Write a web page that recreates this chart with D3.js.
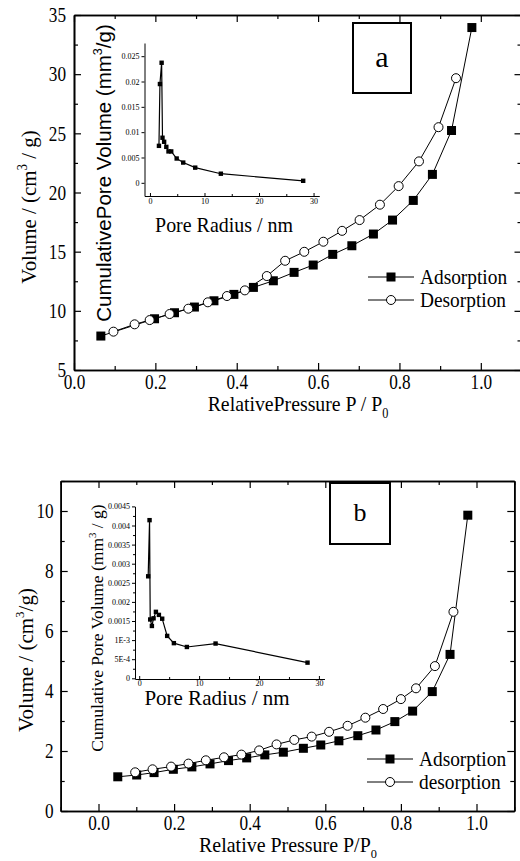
<!DOCTYPE html>
<html>
<head>
<meta charset="utf-8">
<title>Isotherms</title>
<script src="https://d3js.org/d3.v7.min.js"></script>
<style>
  body { margin: 0; background: #fff; }
</style>
</head>
<body>
<svg width="520" height="861" id="mainSvg" font-family="Liberation Serif"></svg>
<script>
// ---- panel a: isotherm ----
const aAdsP = [0.066, 0.198, 0.247, 0.296, 0.344, 0.393, 0.441, 0.490, 0.541, 0.588, 0.636, 0.683, 0.736, 0.783, 0.834, 0.881, 0.928, 0.978];
const aAdsV = [7.87, 9.33, 9.84, 10.32, 10.85, 11.39, 11.98, 12.54, 13.25, 13.87, 14.77, 15.50, 16.49, 17.67, 19.33, 21.53, 25.24, 33.94];
const aDesP = [0.097, 0.149, 0.186, 0.235, 0.281, 0.329, 0.376, 0.420, 0.474, 0.519, 0.566, 0.613, 0.659, 0.702, 0.752, 0.798, 0.848, 0.896, 0.939];
const aDesV = [8.24, 8.86, 9.22, 9.73, 10.18, 10.72, 11.25, 11.73, 12.94, 14.23, 14.99, 15.84, 16.76, 17.67, 18.97, 20.54, 22.63, 25.52, 29.66];
// panel a inset: pore distribution
const aPoreR = [1.65, 1.83, 2.14, 2.3, 2.6, 3.0, 3.4, 3.9, 4.9, 6.1, 8.3, 13.0, 28.1];
const aPoreV = [0.0073, 0.0195, 0.0237, 0.0089, 0.0081, 0.0071, 0.0062, 0.0062, 0.0048, 0.0040, 0.0030, 0.0018, 0.0004];

// ---- panel b: isotherm ----
const bAdsP = [0.051, 0.101, 0.147, 0.198, 0.247, 0.295, 0.344, 0.392, 0.440, 0.489, 0.542, 0.588, 0.636, 0.686, 0.734, 0.784, 0.831, 0.883, 0.930, 0.977];
const bAdsV = [1.14, 1.20, 1.28, 1.39, 1.47, 1.57, 1.68, 1.77, 1.87, 1.96, 2.09, 2.20, 2.34, 2.51, 2.70, 2.98, 3.33, 3.98, 5.22, 9.86];
const bDesP = [0.097, 0.143, 0.192, 0.238, 0.284, 0.332, 0.378, 0.425, 0.471, 0.518, 0.564, 0.610, 0.659, 0.706, 0.753, 0.800, 0.840, 0.890, 0.939];
const bDesV = [1.29, 1.39, 1.48, 1.58, 1.69, 1.79, 1.88, 2.02, 2.22, 2.37, 2.48, 2.64, 2.84, 3.11, 3.40, 3.73, 4.09, 4.83, 6.64];
// panel b inset
const bPoreR = [1.50, 1.73, 1.84, 2.12, 2.40, 2.79, 3.29, 3.84, 4.67, 5.79, 7.96, 12.75, 28.1];
const bPoreV = [0.00267, 0.00414, 0.00154, 0.00137, 0.00157, 0.00174, 0.00166, 0.00156, 0.00111, 0.00092, 0.00082, 0.00091, 0.00041];

// tick values / labels
const aYTicks = [5, 10, 15, 20, 25, 30, 35];
const bYTicks = [0, 2, 4, 6, 8, 10];
const pTicks = [0, 0.2, 0.4, 0.6, 0.8, 1.0];
const rTicks = [0, 10, 20, 30];
const aInsetYTicks = [0, 0.005, 0.01, 0.015, 0.02, 0.025];
const aInsetYLabels = ["0", "0.005", "0.01", "0.015", "0.02", "0.025"];
const bInsetYTicks = [0, 0.0005, 0.001, 0.0015, 0.002, 0.0025, 0.003, 0.0035, 0.004, 0.0045];
const bInsetYLabels = ["0", "5E-4", "1E-3", "0.0015", "0.002", "0.0025", "0.003", "0.0035", "0.004", "0.0045"];

const SERIF = "Liberation Serif";
const SANS = "Liberation Sans";
const SQX = 0.82; // the source figure is squeezed horizontally

const svg = d3.select('#mainSvg');
const zip = (a, b) => a.map((v, i) => [v, b[i]]);

// boxed axis frame with inward ticks on all four sides
function frame(x, y, o) {
    const g = svg.append('g');
    const [xl, xr] = x.range();
    const [yb, yt] = y.range();
    const sides = [
        [d3.axisBottom, x, yb, o.xTicks, o.xMinor, true],
        [d3.axisTop, x, yt, o.xTicks, o.xMinor, false],
        [d3.axisLeft, y, xl, o.yTicks, o.yMinor, true],
        [d3.axisRight, y, xr, o.yTicks, o.yMinor, false]
    ];
    sides.forEach(([ax, sc, pos, ticks, minor, lab], i) => {
        const tr = i < 2 ? `translate(0,${pos})` : `translate(${pos},0)`;
        g.append('g').attr('transform', tr)
            .call(ax(sc).tickValues(minor).tickSize(-4).tickSizeOuter(0).tickFormat(''));
        const a = g.append('g').attr('transform', tr)
            .call(ax(sc).tickValues(ticks).tickSize(-7).tickSizeOuter(0)
                .tickPadding(i < 2 ? o.xPad : o.yPad)
                .tickFormat(lab ? (i < 2 ? d3.format('.1f') : d3.format('d')) : ''));
        if (i === 2) a.selectAll('text').attr('x', -o.yPad / SQX);
    });
    g.selectAll('g').attr('font-family', SERIF);
    g.selectAll('text').attr('font-size', o.fs).attr('transform', `scale(${SQX},1)`);
    g.selectAll('path.domain').attr('stroke-width', 1.6);
    g.selectAll('line').attr('stroke-width', 1.2);
    return g;
}

function series(x, y, P, V, kind, size) {
    const g = svg.append('g');
    g.append('path').datum(zip(P, V))
        .attr('fill', 'none').attr('stroke', '#000').attr('stroke-width', 1)
        .attr('d', d3.line().x(d => x(d[0])).y(d => y(d[1])));
    if (kind === 'sq') {
        g.selectAll('rect').data(zip(P, V)).join('rect')
            .attr('x', d => x(d[0]) - size / 2).attr('y', d => y(d[1]) - size / 2)
            .attr('width', size).attr('height', size).attr('fill', '#000');
    } else {
        g.selectAll('circle').data(zip(P, V)).join('circle')
            .attr('cx', d => x(d[0])).attr('cy', d => y(d[1])).attr('r', size / 2)
            .attr('fill', '#fff').attr('stroke', '#000').attr('stroke-width', 1);
    }
}

function inset(x, y, R, V, o) {
    const g = svg.append('g');
    const [xl] = x.range();
    g.append('g').attr('transform', `translate(${xl},0)`)
        .call(d3.axisLeft(y).tickValues(o.yTicks).tickSize(3).tickSizeOuter(0).tickPadding(2)
            .tickFormat((d, i) => o.yLabels[i]));
    if (o.yMinor) {
        g.append('g').attr('transform', `translate(${xl},0)`)
            .call(d3.axisLeft(y).tickValues(o.yMinor).tickSize(2).tickSizeOuter(0).tickFormat(''));
    }
    g.append('g').attr('transform', `translate(0,${o.xAxisY})`)
        .call(d3.axisBottom(x).tickValues(rTicks).tickSize(-3).tickSizeOuter(0).tickPadding(o.xPad)
            .tickFormat(d3.format('d')));
    g.append('g').attr('transform', `translate(0,${o.xAxisY})`)
        .call(d3.axisBottom(x).tickValues([5, 15, 25]).tickSize(-2).tickSizeOuter(0).tickFormat(''));
    g.selectAll('g').attr('font-family', SERIF);
    g.selectAll('text').attr('font-size', 8);
    g.append('path').datum(zip(R, V))
        .attr('fill', 'none').attr('stroke', '#000').attr('stroke-width', 1.2)
        .attr('d', d3.line().x(d => x(d[0])).y(d => y(d[1])));
    g.selectAll('rect.pt').data(zip(R, V)).join('rect').attr('class', 'pt')
        .attr('x', d => x(d[0]) - 2.2).attr('y', d => y(d[1]) - 2.2)
        .attr('width', 4.4).attr('height', 4.4).attr('fill', '#000');
}

// text with optional rotation, horizontal squeeze sx and sup/sub parts
function label(x, y, rot, size, sx, parts, family) {
    const t = svg.append('text')
        .attr('transform', `translate(${x},${y})` + (rot ? ' rotate(-90)' : '') + ` scale(${sx},1)`)
        .attr('text-anchor', 'middle').attr('font-size', size)
        .attr('font-family', family || SERIF);
    parts.forEach(p => {
        const s = t.append('tspan').text(p[0]);
        if (p[1] === 'sup') s.attr('font-size', size * 0.62).attr('dy', -size * 0.42);
        if (p[1] === 'sub') s.attr('font-size', size * 0.62).attr('dy', size * 0.3);
        if (p[1] === 'back') s.attr('dy', size * 0.42);
    });
    return t;
}

function legend(x0, y0, gap, names, size) {
    const g = svg.append('g');
    names.forEach((n, i) => {
        const yy = y0 + i * gap;
        g.append('line').attr('x1', x0).attr('x2', x0 + 46).attr('y1', yy).attr('y2', yy)
            .attr('stroke', '#000').attr('stroke-width', 1);
        if (i === 0) {
            g.append('rect').attr('x', x0 + 23 - 4.5).attr('y', yy - 4.5).attr('width', 9).attr('height', 9);
        } else {
            g.append('circle').attr('cx', x0 + 23).attr('cy', yy).attr('r', 4.5)
                .attr('fill', '#fff').attr('stroke', '#000');
        }
        g.append('text').attr('transform', `translate(${x0 + 52},${yy + 7}) scale(${SQX + 0.06},1)`)
            .attr('font-family', SERIF).attr('font-size', size).text(n);
    });
}

function tag(x, y, w, h, txt, size) {
    svg.append('rect').attr('x', x).attr('y', y).attr('width', w).attr('height', h)
        .attr('fill', '#fff').attr('stroke', '#000').attr('stroke-width', 2);
    svg.append('text').attr('x', x + w / 2).attr('y', y + h / 2 + size * 0.3)
        .attr('text-anchor', 'middle').attr('font-size', size).attr('font-family', SERIF).text(txt);
}

// ================= panel a =================
const xA = d3.scaleLinear().domain([0, 1.1]).range([74, 521.5]);
const yA = d3.scaleLinear().domain([5, 35]).range([370, 15]);
frame(xA, yA, {
    xTicks: pTicks, xMinor: [0.1, 0.3, 0.5, 0.7, 0.9, 1.1],
    yTicks: aYTicks, yMinor: [7.5, 12.5, 17.5, 22.5, 27.5, 32.5],
    xPad: 4, yPad: 8, fs: 21
});
const xAi = d3.scaleLinear().domain([-1, 31]).range([144.5, 319]);
const yAi = d3.scaleLinear().domain([-0.0026, 0.0276]).range([196, 43]);
inset(xAi, yAi, aPoreR, aPoreV, { yTicks: aInsetYTicks, yLabels: aInsetYLabels, xAxisY: 196, xPad: 2 });
series(xA, yA, aAdsP, aAdsV, 'sq', 9);
series(xA, yA, aDesP, aDesV, 'ci', 9);
tag(353, 23, 58, 70, 'a', 30);
legend(368, 277, 23, ['Adsorption', 'Desorption'], 22);
label(298, 411, false, 22, 0.9, [['RelativePressure P / P'], ['0', 'sub']]);
label(36, 207, true, 22, 0.95, [['Volume / (cm'], ['3', 'sup'], [' / g)', 'back']]);
label(111, 173, true, 20.5, 1, [['CumulativePore Volume  (mm'], ['3', 'sup'], ['/g)', 'back']], SANS);
label(224, 232, false, 21, 0.95, [['Pore Radius / nm']]);

// ================= panel b =================
const xB = d3.scaleLinear().domain([-0.1, 1.1]).range([60.7, 514.3]);
const yB = d3.scaleLinear().domain([0, 11]).range([811, 481]);
frame(xB, yB, {
    xTicks: pTicks, xMinor: [-0.1, 0.1, 0.3, 0.5, 0.7, 0.9, 1.1],
    yTicks: bYTicks, yMinor: [1, 3, 5, 7, 9, 11],
    xPad: 4, yPad: 7, fs: 21
});
const xBi = d3.scaleLinear().domain([-0.7, 30.9]).range([135, 324.3]);
const yBi = d3.scaleLinear().domain([0, 0.0045]).range([678.3, 506.4]);
inset(xBi, yBi, bPoreR, bPoreV, {
    yTicks: bInsetYTicks, yLabels: bInsetYLabels,
    yMinor: d3.range(0.00025, 0.0045, 0.0005), xAxisY: 679, xPad: 1
});
series(xB, yB, bAdsP, bAdsV, 'sq', 9);
series(xB, yB, bDesP, bDesV, 'ci', 9);
tag(330, 483, 60, 61, 'b', 26);
legend(367, 759, 23, ['Adsorption', 'desorption'], 22);
label(288, 852, false, 21, 0.95, [['Relative Pressure P/P'], ['0', 'sub']]);
label(33, 660, true, 21, 1, [['Volume / (cm'], ['3', 'sup'], ['/g)', 'back']]);
label(103, 628, true, 17.5, 1, [['Cumulative Pore Volume (mm'], ['3', 'sup'], [' / g)', 'back']]);
label(217, 705, false, 21, 1, [['Pore Radius / nm']]);
</script>
</body>
</html>
